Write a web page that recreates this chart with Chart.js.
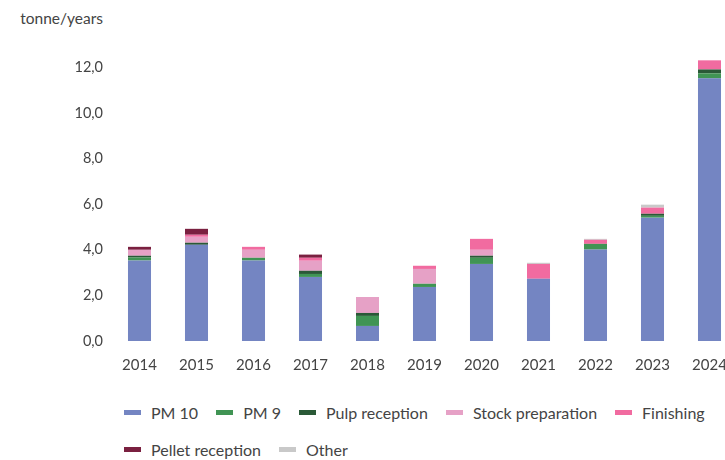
<!DOCTYPE html>
<html>
<head>
<meta charset="utf-8">
<script src="https://cdn.jsdelivr.net/npm/chart.js@4"></script>
<style>
  html, body { margin: 0; padding: 0; background: #fff; overflow: hidden; }
  body { width: 725px; height: 460px; position: relative; font-family: Lato, "Noto Sans", sans-serif; color: #444; }
  #unit { position: absolute; top: 9px; left: 0; width: 103px; text-align: right; font-size: 15.5px; }
  #wrap { position: absolute; top: 0; left: 0; width: 745px; height: 385px; }
  #legend { position: absolute; top: 402px; left: 124px; width: 601px; display: flex; flex-wrap: wrap; row-gap: 17px; font-size: 16px; }
  .item { display: flex; align-items: center; margin-right: 18px; height: 20px; }
  .box { width: 17px; height: 5px; margin-right: 10px; }
</style>
</head>
<body>
<div id="unit">tonne/years</div>
<div id="wrap"><canvas id="chart"></canvas></div>
<div id="legend"></div>
<script>
const years = ['2014', '2015', '2016', '2017', '2018', '2019', '2020', '2021', '2022', '2023', '2024'];
const pm10 = [3.53, 4.22, 3.53, 2.81, 0.66, 2.37, 3.38, 2.73, 4.01, 5.41, 11.52];
const pm9 = [0.13, 0, 0.12, 0.13, 0.44, 0.14, 0.27, 0, 0.25, 0.08, 0.22];
const pulpReception = [0.08, 0.09, 0, 0.14, 0.13, 0, 0.09, 0, 0, 0.09, 0.17];
const stockPreparation = [0.26, 0.26, 0.35, 0.44, 0.70, 0.65, 0.26, 0, 0, 0, 0];
const finishing = [0, 0.09, 0.13, 0.13, 0, 0.14, 0.48, 0.65, 0.18, 0.27, 0.40];
const pelletReception = [0.13, 0.26, 0, 0.14, 0, 0, 0, 0, 0, 0, 0];
const other = [0, 0, 0, 0, 0, 0, 0, 0.05, 0.04, 0.13, 0];
const yTicks = [0, 2, 4, 6, 8, 10, 12];

const series = [
  { label: 'PM 10', data: pm10, color: '#7485c2' },
  { label: 'PM 9', data: pm9, color: '#409454' },
  { label: 'Pulp reception', data: pulpReception, color: '#2a5937' },
  { label: 'Stock preparation', data: stockPreparation, color: '#e6a1c6' },
  { label: 'Finishing', data: finishing, color: '#f16ba0' },
  { label: 'Pellet reception', data: pelletReception, color: '#7a2040' },
  { label: 'Other', data: other, color: '#c9c9c9' }
];

const font = { family: 'Lato, "Noto Sans", sans-serif' };

new Chart(document.getElementById('chart'), {
  type: 'bar',
  data: {
    labels: years,
    datasets: series.map(s => ({
      label: s.label,
      data: s.data,
      backgroundColor: s.color,
      borderWidth: 0,
      categoryPercentage: 1,
      barPercentage: 0.404
    }))
  },
  options: {
    responsive: true,
    maintainAspectRatio: false,
    animation: false,
    layout: { padding: { top: 56, right: 7, left: 0, bottom: 0 } },
    plugins: { legend: { display: false }, tooltip: { enabled: false } },
    scales: {
      x: {
        stacked: true,
        grid: { display: false, drawTicks: false },
        border: { display: false },
        ticks: { color: '#444', padding: 15, font: { ...font, size: 15 }, maxRotation: 0, autoSkip: false },
        afterFit: s => { s.height = 44; }
      },
      y: {
        stacked: true,
        min: 0,
        max: 12.5,
        grid: { display: false, drawTicks: false },
        border: { display: false },
        afterBuildTicks: s => { s.ticks = yTicks.map(v => ({ value: v })); },
        afterFit: s => { s.width = 111; },
        ticks: {
          color: '#444',
          padding: 8,
          font: { ...font, size: 14.5 },
          callback: v => v.toFixed(1).replace('.', ',')
        }
      }
    }
  }
});

const legend = document.getElementById('legend');
series.forEach(s => {
  const item = document.createElement('div');
  item.className = 'item';
  const box = document.createElement('span');
  box.className = 'box';
  box.style.background = s.color;
  const text = document.createElement('span');
  text.textContent = s.label;
  item.appendChild(box);
  item.appendChild(text);
  legend.appendChild(item);
});
</script>
</body>
</html>
